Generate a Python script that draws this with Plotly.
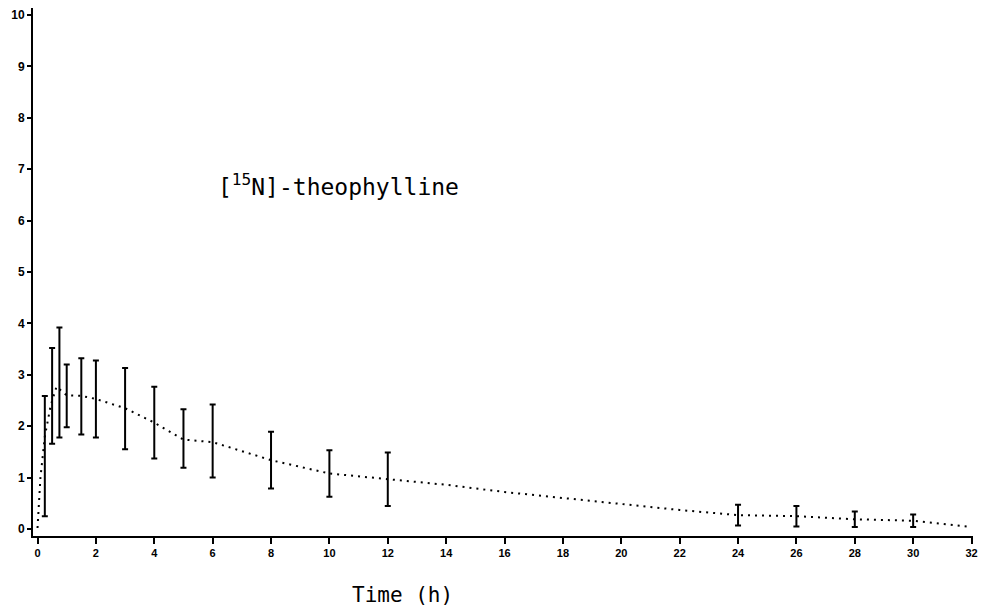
import plotly.graph_objects as go

# Mean curve (dotted line)
line_t = [0, 0.1, 0.25, 0.45, 0.65, 1, 1.5, 2, 3, 4, 5, 6, 8, 10, 12, 14, 16, 18, 20, 22, 24, 26, 28, 30, 32]
line_c = [0.02, 1.0, 1.8, 2.4, 2.77, 2.6, 2.59, 2.53, 2.35, 2.07, 1.74, 1.69, 1.34, 1.08, 0.97, 0.86, 0.72, 0.60, 0.48, 0.37, 0.27, 0.25, 0.19, 0.16, 0.04]

# Error bars (centre and half-width)
bar_t = [0.25, 0.5, 0.75, 1, 1.5, 2, 3, 4, 5, 6, 8, 10, 12, 24, 26, 28, 30]
bar_mean = [1.42, 2.59, 2.85, 2.59, 2.58, 2.53, 2.34, 2.07, 1.76, 1.71, 1.34, 1.08, 0.97, 0.27, 0.25, 0.19, 0.16]
bar_sd = [1.17, 0.93, 1.07, 0.61, 0.74, 0.75, 0.79, 0.70, 0.57, 0.71, 0.55, 0.45, 0.52, 0.20, 0.20, 0.15, 0.12]

x_ticks = list(range(0, 33, 2))
y_ticks = list(range(0, 11))

fig = go.Figure()
fig.add_trace(go.Scatter(
    x=line_t, y=line_c, mode="lines",
    line=dict(color="black", width=2, dash="2px,5px"),
    showlegend=False, hoverinfo="skip"))
fig.add_trace(go.Scatter(
    x=bar_t, y=bar_mean, mode="markers",
    marker=dict(size=1, color="rgba(0,0,0,0)"),
    error_y=dict(type="data", array=bar_sd, visible=True,
                 color="black", thickness=2, width=3),
    showlegend=False))

# page body adds an 8px offset; figure sized to compensate
fig.update_layout(
    width=990, height=605,
    margin=dict(l=25, r=25, t=0, b=77),
    paper_bgcolor="white", plot_bgcolor="white",
    xaxis=dict(range=[-0.155, 32.05], tickvals=x_ticks, ticktext=[f"<b>{v}</b>" for v in x_ticks],
               automargin=False, ticklabeloverflow="allow",
               showgrid=False, zeroline=False, showline=True, linecolor="black", linewidth=2,
               ticks="outside", ticklen=6, tickwidth=1.5, tickcolor="black",
               tickfont=dict(family="Liberation Sans", size=11, color="black")),
    yaxis=dict(range=[-0.136, 10.136], tickvals=y_ticks, ticktext=[f"<b>{v}</b>" for v in y_ticks],
               automargin=False, ticklabeloverflow="allow",
               showgrid=False, zeroline=False, showline=True, linecolor="black", linewidth=2,
               ticks="outside", ticklen=4, tickwidth=1.5, tickcolor="black",
               tickfont=dict(family="Liberation Sans", size=12, color="black")),
    annotations=[
        dict(x=6.1, y=6.7, xref="x", yref="y", xanchor="left", yanchor="middle",
             text="[<sup>15</sup>N]-theophylline", showarrow=False,
             font=dict(family="DejaVu Sans Mono", size=23, color="black")),
        dict(x=12.5, y=-0.112, xref="x", yref="paper", xanchor="center", yanchor="middle",
             text="Time (h)", showarrow=False,
             font=dict(family="DejaVu Sans Mono", size=21, color="black")),
    ],
)
fig.write_html("out.html")
